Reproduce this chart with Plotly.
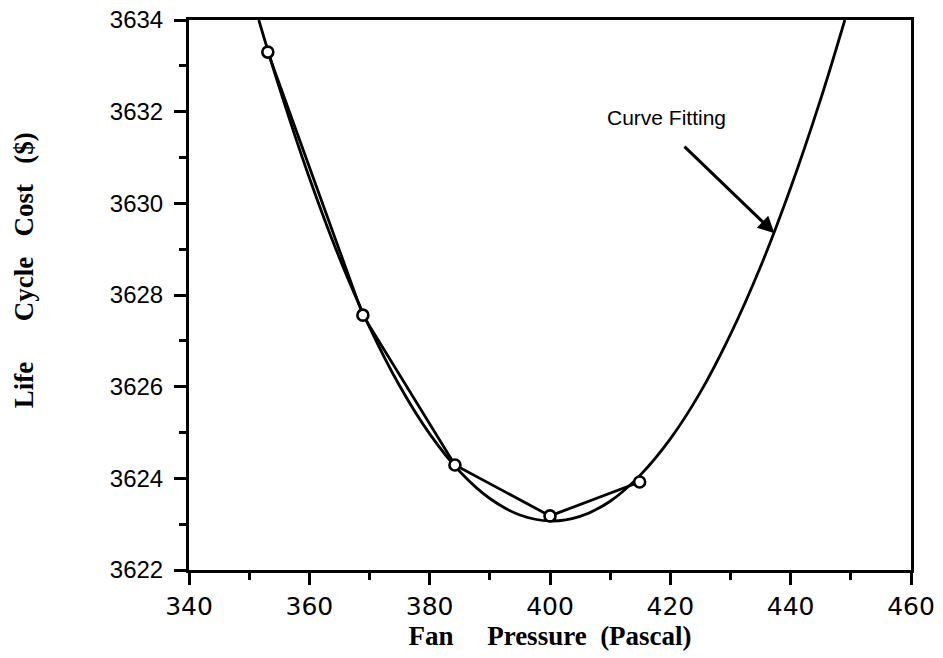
import plotly.graph_objects as go

# Data points (connected by straight segments)
pressure = [353.1, 368.9, 384.2, 400.0, 414.9]
cost = [3633.30, 3627.56, 3624.29, 3623.18, 3623.92]

# Curve fitting line
fit_x = [351.6, 355, 360, 365, 370, 375, 380, 385, 390, 395, 400,
         405, 410, 415, 420, 425, 430, 435, 440, 445, 449]
fit_y = [3634.0, 3632.53, 3630.56, 3628.81, 3627.30, 3626.02, 3624.97,
         3624.15, 3623.56, 3623.20, 3623.07, 3623.17, 3623.50, 3624.07,
         3624.86, 3625.88, 3627.14, 3628.62, 3630.34, 3632.28, 3634.0]

x_ticks = [340, 360, 380, 400, 420, 440, 460]
y_ticks = [3622, 3624, 3626, 3628, 3630, 3632, 3634]

fig = go.Figure()
fig.add_trace(go.Scatter(x=fit_x, y=fit_y, mode="lines",
                         line=dict(color="black", width=2.8, shape="spline"),
                         showlegend=False, hoverinfo="skip"))
fig.add_trace(go.Scatter(x=pressure, y=cost, mode="lines+markers",
                         line=dict(color="black", width=2.8),
                         marker=dict(symbol="circle", size=11, color="white",
                                     line=dict(color="black", width=2.6)),
                         showlegend=False, cliponaxis=False))

# Arrow + label
fig.add_annotation(x=437.3, y=3629.35, ax=422.1, ay=3631.27,
                   xref="x", yref="y", axref="x", ayref="y",
                   showarrow=True, arrowhead=2, arrowsize=1.1, arrowwidth=3,
                   arrowcolor="black", text="")
fig.add_annotation(x=419.4, y=3631.87, xref="x", yref="y", text="Curve Fitting",
                   showarrow=False,
                   font=dict(family="Liberation Sans, Arial", size=21, color="black"))

# Y title as annotation
fig.add_annotation(xref="paper", yref="paper", x=-0.2285, y=0.545,
                   text="Life      Cycle   Cost   ($)", textangle=-90, showarrow=False,
                   xanchor="center", yanchor="middle",
                   font=dict(family="Liberation Serif, Times New Roman", size=27,
                             color="black", weight="bold"))

axis_common = dict(showgrid=False, zeroline=False, showline=True, linecolor="black",
                   linewidth=3, mirror=True, ticks="outside", tickcolor="black",
                   tickwidth=3, ticklen=12, automargin=False)

fig.update_xaxes(range=[340, 460], tickvals=x_ticks, ticktext=[str(v) for v in x_ticks],
                 minor=dict(dtick=10, ticks="outside", ticklen=7, tickwidth=3,
                            tickcolor="black", showgrid=False),
                 tickfont=dict(family="DejaVu Sans, Verdana", size=25, color="black"),
                 title=dict(text="Fan     Pressure  (Pascal)", standoff=4,
                            font=dict(family="Liberation Serif, Times New Roman", size=27,
                                      color="black", weight="bold")),
                 **axis_common)
fig.update_yaxes(range=[3622, 3634], tickvals=y_ticks, ticktext=[str(v) for v in y_ticks],
                 minor=dict(dtick=1, ticks="outside", ticklen=7, tickwidth=3,
                            tickcolor="black", showgrid=False),
                 tickfont=dict(family="Liberation Sans, Arial", size=24, color="black"),
                 ticklabelstandoff=6,
                 **axis_common)

fig.update_layout(width=943, height=658, margin=dict(l=189, r=32, t=20, b=88),
                  plot_bgcolor="white", paper_bgcolor="white")
fig.write_html("out.html")
